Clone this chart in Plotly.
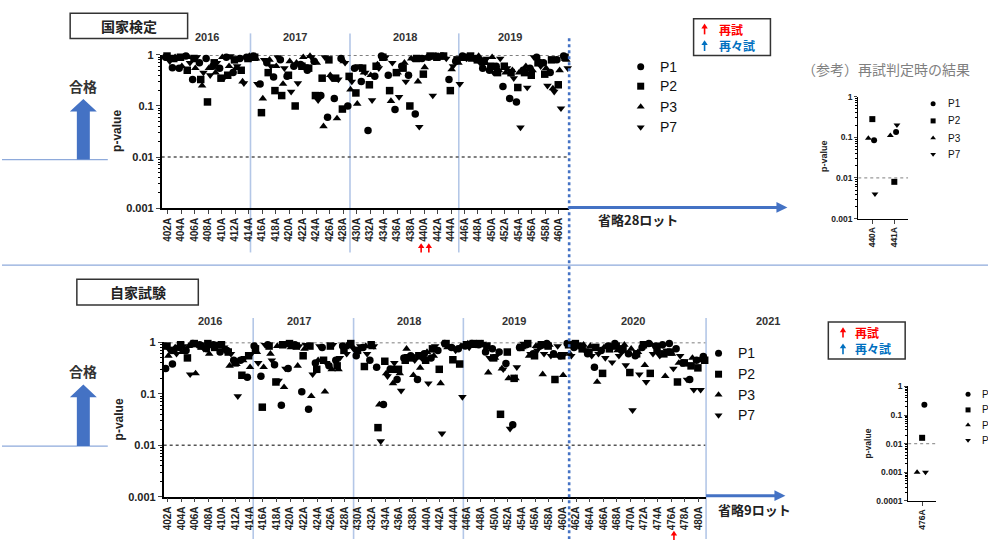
import plotly.graph_objects as go

W, H = 988, 545

# ---------------- data ----------------
series_names = ["P1", "P2", "P3", "P7"]

top_lots = list(range(402, 462))
top_p1 = [0.9, 0.56, 0.55, 0.95, 0.33, 0.7, 0.85, 0.6, 0.55, 0.9, 0.45, 0.85,
          0.9, 0.95, 0.27, 0.7, 0.37, 0.8, 0.38, 0.6, 0.65, 0.5, 0.75, 0.16, 0.06, 0.14, 0.85,
          0.1, 0.55, 0.3, 0.033, 0.38, 0.95, 0.4, 0.085, 0.6, 0.4, 0.07, 0.85, 0.9, 0.95, 0.95, 0.33,
          0.75, 0.95, 0.9, 0.85, 0.55, 0.5, 0.6, 0.24, 0.14, 0.12, 0.5, 0.55, 0.9, 0.7, 0.45, 0.8, 0.95]
top_p2 = [0.95, 0.85, 0.9, 0.5, 0.85, 0.33, 0.12, 0.7, 0.35, 0.4, 0.8, 0.5,
          0.85, 0.9, 0.074, 0.45, 0.2, 0.16, 0.4, 0.1, 0.6, 0.55, 0.16, 0.35, 0.8, 0.35, 0.087,
          0.38, 0.18, 0.55, 0.26, 0.6, 0.9, 0.2, 0.45, 0.55, 0.1, 0.85, 0.42, 0.95, 0.9, 0.95, 0.2,
          0.8, 0.9, 0.95, 0.8, 0.75, 0.6, 0.45, 0.6, 0.45, 0.23, 0.45, 0.4, 0.7, 0.42, 0.8, 0.26, 0.9]
top_p3 = [0.85, 0.9, 0.6, 0.9, 0.55, 0.25, 0.55, 0.45, 0.9, 0.6, 0.55, 0.3,
          0.95, 0.85, 0.14, 0.8, 0.6, 0.27, 0.75, 0.7, 0.9, 0.95, 0.7, 0.04, 0.4, 0.057, 0.75,
          0.21, 0.11, 0.45, 0.4, 0.65, 0.85, 0.125, 0.45, 0.7, 0.85, 0.3, 0.57, 0.9, 0.95, 0.9, 0.52,
          0.7, 0.9, 0.8, 0.95, 0.7, 0.9, 0.5, 0.45, 0.5, 0.45, 0.6, 0.5, 0.75, 0.55, 0.22, 0.5, 0.8]
top_p7 = [0.75, 0.9, 0.95, 0.7, 0.9, 0.45, 0.4, 0.7, 0.35, 0.95, 0.6, 0.28,
          0.85, 0.27, 0.8, 0.6, 0.9, 0.55, 0.19, 0.28, 0.6, 0.9, 0.13, 0.9, 0.35, 0.33, 0.7,
          0.3, 0.6, 0.45, 0.13, 0.55, 0.9, 0.7, 0.15, 0.3, 0.85, 0.039, 0.9, 0.16, 0.9, 0.85, 0.6,
          0.27, 0.85, 0.9, 0.7, 0.85, 0.45, 0.85, 0.55, 0.35, 0.038, 0.23, 0.9, 0.6, 0.25, 0.19, 0.09, 0.55]

bot_lots = list(range(402, 482))
bot_p1 = [0.31, 0.38, 0.8, 0.7, 0.95, 0.9, 0.75, 0.9, 0.65, 0.7, 0.45, 0.45,
          0.21, 0.85, 0.22, 0.9, 0.37, 0.06, 0.31, 0.9, 0.11, 0.05, 0.4, 0.8, 0.35, 0.45, 0.85,
          0.9, 0.55, 0.8, 0.45, 0.33, 0.062, 0.3, 0.19, 0.5, 0.55, 0.19, 0.6, 0.5, 0.7, 0.95, 0.8,
          0.75, 0.85, 0.95, 0.9, 0.65, 0.75, 0.65, 0.39, 0.025, 0.8, 0.9, 0.6, 0.85, 0.95, 0.6, 0.55,
          0.95, 0.8, 0.85, 0.6, 0.33, 0.7, 0.85, 0.95, 0.7, 0.6, 0.55, 0.8, 0.95, 0.85, 0.9, 0.95,
          0.75, 0.4, 0.19, 0.45, 0.53]
bot_p2 = [0.85, 0.7, 0.9, 0.5, 0.95, 0.85, 0.95, 0.8, 0.9, 0.65, 0.4, 0.23,
          0.55, 0.75, 0.055, 0.85, 0.17, 0.9, 0.95, 0.85, 0.55, 0.85, 0.3, 0.45, 0.85, 0.35, 0.7,
          0.95, 0.7, 0.34, 0.9, 0.022, 0.43, 0.3, 0.3, 0.45, 0.5, 0.55, 0.45, 0.75, 0.3, 0.95, 0.46,
          0.38, 0.9, 0.95, 0.95, 0.85, 0.5, 0.04, 0.65, 0.2, 0.8, 0.95, 0.55, 0.9, 0.85, 0.19, 0.55,
          0.9, 0.95, 0.75, 0.65, 0.8, 0.25, 0.75, 0.85, 0.75, 0.26, 0.6, 0.9, 0.25, 0.7, 0.6, 0.65,
          0.17, 0.4, 0.35, 0.32, 0.45]
bot_p3 = [0.55, 0.8, 0.65, 0.85, 0.25, 0.8, 0.6, 0.85, 0.7, 0.35, 0.38, 0.45,
          0.33, 0.65, 0.33, 0.6, 0.85, 0.135, 0.8, 0.35, 0.75, 0.09, 0.45, 0.11, 0.3, 0.3, 0.8,
          0.85, 0.75, 0.85, 0.8, 0.062, 0.25, 0.16, 0.25, 0.75, 0.23, 0.32, 0.65, 0.55, 0.16, 0.8, 0.75,
          0.85, 0.95, 0.85, 0.95, 0.26, 0.5, 0.31, 0.2, 0.2, 0.8, 0.55, 0.85, 0.24, 0.9, 0.55, 0.23,
          0.6, 0.85, 0.9, 0.85, 0.17, 0.8, 0.85, 0.7, 0.9, 0.75, 0.65, 0.36, 0.9, 0.85, 0.22, 0.6,
          0.4, 0.4, 0.5, 0.45, 0.5]
bot_p7 = [0.7, 0.6, 0.85, 0.24, 0.9, 0.75, 0.9, 0.95, 0.8, 0.6, 0.09, 0.5,
          0.6, 0.4, 0.9, 0.45, 0.18, 0.31, 0.9, 0.85, 0.9, 0.24, 0.85, 0.4, 0.9, 0.5, 0.6,
          0.75, 0.85, 0.6, 0.85, 0.012, 0.22, 0.4, 0.115, 0.55, 0.45, 0.5, 0.16, 0.85, 0.017, 0.85, 0.7,
          0.087, 0.8, 0.9, 0.95, 0.5, 0.55, 0.3, 0.021, 0.33, 0.95, 0.6, 0.7, 0.6, 0.55, 0.85, 0.6,
          0.55, 0.85, 0.7, 0.55, 0.6, 0.5, 0.41, 0.55, 0.36, 0.048, 0.24, 0.17, 0.6, 0.55, 0.7, 0.31,
          0.55, 0.19, 0.12, 0.12, 0.4]

retest_top_lots = ["440A", "441A"]
retest_top_p1 = [0.085, 0.135]
retest_top_p2 = [0.28, 0.008]
retest_top_p3 = [0.095, 0.11]
retest_top_p7 = [0.004, 0.2]

retest_bot_lots = ["476A"]
retest_bot_p1 = [0.23]
retest_bot_p2 = [0.016]
retest_bot_p3 = [0.001]
retest_bot_p7 = [0.001]

year_labels_top = ["2016", "2017", "2018", "2019"]
year_labels_bot = ["2016", "2017", "2018", "2019", "2020", "2021"]

# ---------------- styles ----------------
FONT = "Liberation Sans, Arial, Noto Sans CJK JP, sans-serif"
JFONT = "Noto Sans CJK JP, Liberation Sans, sans-serif"
SYMBOLS = {"P1": "circle", "P2": "square", "P3": "triangle-up", "P7": "triangle-down"}
JITTER = {"P1": -0.3, "P2": -0.1, "P3": 0.1, "P7": 0.3}
SMALL_JITTER = {"P1": 0.08, "P2": 0.0, "P3": -0.18, "P7": 0.12}
BLUE = "#4472c4"
LIGHTBLUE = "#b4c7e7"


def px(x):
    return x / W


def py(y):
    return 1 - y / H


fig = go.Figure()

top_data = {"P1": top_p1, "P2": top_p2, "P3": top_p3, "P7": top_p7}
bot_data = {"P1": bot_p1, "P2": bot_p2, "P3": bot_p3, "P7": bot_p7}
rt_data = {"P1": retest_top_p1, "P2": retest_top_p2, "P3": retest_top_p3, "P7": retest_top_p7}
rb_data = {"P1": retest_bot_p1, "P2": retest_bot_p2, "P3": retest_bot_p3, "P7": retest_bot_p7}

TOP_XR = [401.11, 461.47]
BOT_XR = [401.41, 481.03]

# reference dotted lines (drawn first, under markers)
for xa, ya, xr in [("x", "y", TOP_XR), ("x2", "y2", BOT_XR)]:
    for v in [1, 0.01]:
        fig.add_trace(go.Scatter(x=xr, y=[v, v], mode="lines", xaxis=xa, yaxis=ya,
                                 line=dict(color="#555555", width=1.5, dash="dot"),
                                 hoverinfo="skip", showlegend=False))
fig.add_trace(go.Scatter(x=[-0.64, 1.63], y=[0.01, 0.01], mode="lines", xaxis="x3", yaxis="y3",
                         line=dict(color="#999999", width=1.2, dash="dot"), hoverinfo="skip", showlegend=False))
fig.add_trace(go.Scatter(x=[-0.5, 0.5], y=[0.01, 0.01], mode="lines", xaxis="x4", yaxis="y4",
                         line=dict(color="#999999", width=1.2, dash="dot"), hoverinfo="skip", showlegend=False))

for s in series_names:
    fig.add_trace(go.Scatter(x=[l + JITTER[s] for l in top_lots], y=top_data[s], mode="markers",
                             xaxis="x", yaxis="y", name=s, showlegend=False, cliponaxis=False,
                             marker=dict(symbol=SYMBOLS[s], size=7.5, color="black")))
    fig.add_trace(go.Scatter(x=[l + JITTER[s] for l in bot_lots], y=bot_data[s], mode="markers",
                             xaxis="x2", yaxis="y2", name=s, showlegend=False, cliponaxis=False,
                             marker=dict(symbol=SYMBOLS[s], size=7.5, color="black")))
    fig.add_trace(go.Scatter(x=[i + SMALL_JITTER[s] for i in range(len(retest_top_lots))], y=rt_data[s],
                             mode="markers", xaxis="x3", yaxis="y3", name=s, showlegend=False, cliponaxis=False,
                             marker=dict(symbol=SYMBOLS[s], size=6, color="black")))
    fig.add_trace(go.Scatter(x=[i + SMALL_JITTER[s] for i in range(len(retest_bot_lots))], y=rb_data[s],
                             mode="markers", xaxis="x4", yaxis="y4", name=s, showlegend=False, cliponaxis=False,
                             marker=dict(symbol=SYMBOLS[s], size=6, color="black")))

# legend glyphs (overlay pixel axis)
legend_blocks = [
    (640, [62, 82, 103, 124], 657, 14, 7),
    (718, [355, 376.5, 397.5, 418.5], 735, 14, 7),
    (933, [100, 117.5, 135, 151.5], 946, 10, 5),
    (968, [397, 413, 428.5, 444], 980, 10, 5),
]
ann = []
for mx, ys, tx, fs, ms in legend_blocks:
    for s, yy in zip(series_names, ys):
        fig.add_trace(go.Scatter(x=[mx], y=[yy], mode="markers", xaxis="x5", yaxis="y5",
                                 showlegend=False, hoverinfo="skip", cliponaxis=False,
                                 marker=dict(symbol=SYMBOLS[s], size=ms, color="black")))
        ann.append(dict(x=px(tx), y=py(yy), xref="paper", yref="paper", text=s, showarrow=False,
                        xanchor="left", yanchor="middle", font=dict(family=FONT, size=fs, color="#111")))

# ---------------- axes ----------------
minor_vals = [k * 10 ** e for e in range(-4, 0) for k in range(2, 10)]


def log_axis(domain, anchor, rng, tickvals, ticktext, fs, lw=1.5):
    return dict(type="log", domain=domain, anchor=anchor, range=rng, tickmode="array",
                tickvals=tickvals, ticktext=ticktext, ticks="outside", ticklen=4, tickwidth=1.2,
                showline=True, linecolor="black", linewidth=lw, showgrid=False, zeroline=False,
                tickfont=dict(family=FONT, size=fs, color="#222", weight="bold"),
                minor=dict(tickmode="array", tickvals=minor_vals, ticks="outside", ticklen=2,
                           tickcolor="black", showgrid=False))


def cat_axis(domain, anchor, rng, tickvals, ticktext, fs, lw=1.5):
    return dict(domain=domain, anchor=anchor, range=rng, tickmode="array", tickvals=tickvals,
                ticktext=ticktext, tickangle=-90, ticks="outside", ticklen=4, tickwidth=1.2,
                showline=True, linecolor="black", linewidth=lw, showgrid=False, zeroline=False,
                tickfont=dict(family=FONT, size=fs, color="#222", weight="bold"))


top_ticks = [l for l in top_lots if l % 2 == 0]
bot_ticks = [l for l in bot_lots if l % 2 == 0]
dec = [0.001, 0.01, 0.1, 1]
dec_t = ["0.001", "0.01", "0.1", "1"]

layout_axes = dict(
    xaxis=cat_axis([px(160), px(568)], "y", TOP_XR, top_ticks, [f"{v}A" for v in top_ticks], 10),
    yaxis=log_axis([py(206.7), py(50)], "x", [-3, 0], dec, dec_t, 11),
    xaxis2=cat_axis([px(162), px(705)], "y2", BOT_XR, bot_ticks, [f"{v}A" for v in bot_ticks], 10),
    yaxis2=log_axis([py(501.7), py(344)], "x2", [-3, 0], dec, dec_t, 11),
    xaxis3=cat_axis([px(858), px(908)], "y3", [-0.64, 1.63], [0, 1], retest_top_lots, 8.5, 1.2),
    yaxis3=log_axis([py(217.3), py(92.7)], "x3", [-3, 0], dec, dec_t, 8.5, 1.2),
    xaxis4=cat_axis([px(908), px(936)], "y4", [-0.5, 0.5], [0], retest_bot_lots, 8.5, 1.2),
    yaxis4=log_axis([py(506), py(389)], "x4", [-4, 0], [0.0001] + dec, ["0.0001"] + dec_t, 8.5, 1.2),
    xaxis5=dict(domain=[0, 1], range=[0, W], visible=False, anchor="y5", fixedrange=True),
    yaxis5=dict(domain=[0, 1], range=[H, 0], visible=False, anchor="x5", fixedrange=True),
)
layout_axes["yaxis3"]["ticklen"] = 3
layout_axes["yaxis4"]["ticklen"] = 3

# ---------------- shapes ----------------
shapes = []


def line(x0, y0, x1, y1, color, width, dash="solid"):
    shapes.append(dict(type="line", xref="paper", yref="paper", x0=px(x0), y0=py(y0), x1=px(x1), y1=py(y1),
                       line=dict(color=color, width=width, dash=dash), layer="below"))


def poly(pts, color):
    d = "M " + " L ".join(f"{px(a):.5f},{py(b):.5f}" for a, b in pts) + " Z"
    shapes.append(dict(type="path", xref="paper", yref="paper", path=d, fillcolor=color,
                       line=dict(width=0), layer="above"))


def small_arrow(x, ytop, ybot, color):
    poly([(x, ytop), (x - 3.2, ytop + 5), (x + 3.2, ytop + 5)], color)
    poly([(x - 0.8, ytop + 4.5), (x + 0.8, ytop + 4.5), (x + 0.8, ybot), (x - 0.8, ybot)], color)


# separators
line(0, 265, W, 265, "#8eaadb", 1.3)
for x in [249, 348.7, 457.7]:
    line(x, 28, x, 252, LIGHTBLUE, 1.6)
for x in [251.7, 352.3, 462.3, 705.5]:
    line(x, 319, x, 545, LIGHTBLUE, 1.6)
# dotted blue vertical divider
shapes.append(dict(type="line", xref="paper", yref="paper", x0=px(568.3), y0=py(33), x1=px(568.3), y1=py(545),
                   line=dict(color=BLUE, width=2.6, dash="dot"), layer="above"))
# horizontal "omitted" arrows
line(568, 206, 778, 206, BLUE, 3)
poly([(787, 206), (776, 200.5), (776, 211.5)], BLUE)
line(705.5, 500.7, 776, 500.7, BLUE, 3)
poly([(785, 500.7), (774, 495.2), (774, 506.2)], BLUE)

# left "pass" arrows
for tip, base, bottom in [(95, 108, 157), (387, 400, 450)]:
    poly([(81.5, tip), (95, base), (88, base), (88, bottom), (75, bottom), (75, base), (68, base)], BLUE)
    line(0, bottom, 106, bottom, "#8eaadb", 1.2)

# title boxes
for x0, y0, x1, y1 in [(68.3, 7.3, 186, 33.3), (75, 279.3, 196.7, 305.7),
                       (693, 13, 770, 50.5), (828, 323, 905, 361)]:
    shapes.append(dict(type="rect", xref="paper", yref="paper", x0=px(x0), y0=py(y1), x1=px(x1), y1=py(y0),
                       line=dict(color="#333333", width=1.5), fillcolor="white", layer="below"))

# retest marker arrows
small_arrow(704, 18, 29, "#ff0000")
small_arrow(704, 35, 46, "#0070c0")
small_arrow(842.7, 328.5, 339, "#ff0000")
small_arrow(842.7, 345, 356, "#0070c0")
small_arrow(420, 242.5, 252, "#ff0000")
small_arrow(427.7, 242.5, 252, "#ff0000")
small_arrow(673.3, 536.5, 546, "#ff0000")

# ---------------- annotations ----------------


def text(x, y, s, size, color="#222", bold=True, family=FONT, anchor="center", angle=0):
    ann.append(dict(x=px(x), y=py(y), xref="paper", yref="paper", text=s, showarrow=False,
                    xanchor=anchor, yanchor="middle", textangle=angle,
                    font=dict(family=family, size=size, color=color, weight="bold" if bold else "normal")))


text(127, 20.5, "国家検定", 14, "#222", True, JFONT)
text(136, 292.5, "自家試験", 14, "#222", True, JFONT)
text(81.5, 82, "合格", 14, "#333", True, JFONT)
text(81.5, 373, "合格", 14, "#333", True, JFONT)

for lbl, x in zip(year_labels_top, [205, 294, 404, 509]):
    text(x, 32, lbl, 11, "#333")
for lbl, x in zip(year_labels_bot, [208, 298, 408, 513, 632, 768]):
    text(x, 322, lbl, 11, "#333")

text(115, 128, "p-value", 12, "#222", True, FONT, angle=-90)
text(117, 423, "p-value", 12, "#222", True, FONT, angle=-90)
text(823, 153, "p-value", 9, "#222", True, FONT, angle=-90)
text(868, 447, "p-value", 8.5, "#222", True, FONT, angle=-90)

text(595, 218, "省略28ロット", 13, "#222", True, JFONT, anchor="left")
text(715, 515, "省略9ロット", 13, "#222", True, JFONT, anchor="left")
text(800, 64, "（参考）再試判定時の結果", 14, "#7f7f7f", False, JFONT, anchor="left")

text(716, 24.5, "再試", 12, "#ff0000", True, JFONT, anchor="left")
text(716, 40.5, "再々試", 12, "#0070c0", True, JFONT, anchor="left")
text(853, 334, "再試", 12, "#ff0000", True, JFONT, anchor="left")
text(853, 350.5, "再々試", 12, "#0070c0", True, JFONT, anchor="left")

fig.update_layout(
    width=W, height=H, autosize=False, margin=dict(l=0, r=0, t=0, b=0),
    paper_bgcolor="white", plot_bgcolor="rgba(0,0,0,0)", showlegend=False,
    font=dict(family=FONT), shapes=shapes, annotations=ann, **layout_axes,
)

fig.write_html("out.html", config={"displayModeBar": False},
               post_script="document.body.style.margin='0';document.body.style.overflow='hidden';")
